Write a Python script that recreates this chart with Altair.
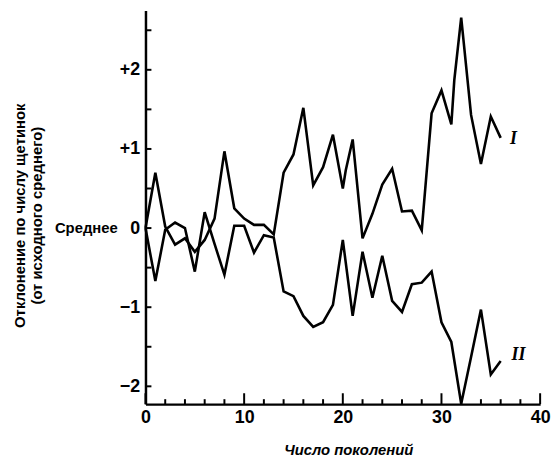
import altair as alt
import pandas as pd

# ---- data ----
gen_I = [0, 1, 2, 3, 4, 5, 6, 7, 8, 9, 10, 11, 12, 13, 14, 15, 16, 17, 18, 19, 20, 20.3, 21, 22, 23, 24, 25, 26,
         27, 28, 29, 30, 31, 31.3, 32, 33, 34, 35, 36]
val_I = [0, 0.70, 0.02, -0.21, -0.13, -0.30, -0.15, 0.12, 0.97, 0.25, 0.12, 0.04, 0.04, -0.08, 0.70, 0.93, 1.52,
         0.54, 0.77, 1.18, 0.50, 0.73, 1.12, -0.13, 0.18, 0.55, 0.75, 0.21, 0.22, -0.03, 1.45, 1.74, 1.31, 1.87,
         2.66, 1.43, 0.81, 1.41, 1.14]

gen_II = [0, 1, 2, 3, 4, 5, 6, 7, 8, 9, 10, 11, 12, 13, 14, 15, 16, 17, 18, 19, 20, 21, 22, 23, 24, 25, 26, 27,
          28, 29, 30, 31, 32, 33, 34, 35, 36]
val_II = [0, -0.67, -0.02, 0.07, 0.0, -0.55, 0.20, -0.20, -0.59, 0.03, 0.03, -0.31, -0.09, -0.12, -0.80, -0.86,
          -1.11, -1.25, -1.19, -0.97, -0.15, -1.11, -0.30, -0.88, -0.35, -0.92, -1.06, -0.71, -0.69, -0.55, -1.19,
          -1.44, -2.22, -1.63, -1.03, -1.85, -1.68]

x_major = [0, 10, 20, 30, 40]
x_minor = [2, 4, 6, 8, 12, 14, 16, 18, 22, 24, 26, 28, 32, 34, 36, 38]
y_ticks = [-2, -1.5, -1, -0.5, 0, 0.5, 1, 1.5, 2, 2.5]
y_labels = [-2, -1, 0, 1, 2]

series_label_x = [37.3, 37.8]
series_label_y = [1.12, -1.60]
series_label_text = ["I", "II"]

mean_text = ["Среднее"]
mean_val = [0]

x_title = "Число поколений"
y_title = ["Отклонение по числу щетинок", "(от исходного среднего)"]

# ---- tables ----
lines_df = pd.DataFrame(
    {"gen": gen_I + gen_II,
     "val": val_I + val_II,
     "series": ["I"] * len(gen_I) + ["II"] * len(gen_II),
     "ord": list(range(len(gen_I))) + list(range(len(gen_II)))}
)
xmaj_df = pd.DataFrame({"gen": x_major})
xmin_df = pd.DataFrame({"gen": x_minor})
yt_df = pd.DataFrame({"val": y_ticks})
lab_df = pd.DataFrame({"gen": series_label_x, "val": series_label_y, "t": series_label_text})
mean_df = pd.DataFrame({"val": mean_val, "t": mean_text})

W, H = 399, 398
NARROW = "Liberation Sans Narrow, Liberation Sans, Arial, sans-serif"

xscale = alt.Scale(domain=[0, 40], nice=False, zero=False)
yscale = alt.Scale(domain=[-2.225, 2.75], nice=False, zero=False)

xaxis = alt.Axis(values=x_major, ticks=False, grid=False, domainColor="black", domainWidth=2.5,
                 labelFont=NARROW, labelFontSize=18, labelFontWeight="bold", labelColor="black",
                 labelPadding=5, labelFlush=False,
                 title=x_title, titleFont=NARROW, titleFontSize=15, titleFontWeight="bold",
                 titleFontStyle="italic", titleColor="black", titlePadding=16, titleX=205)
yaxis = alt.Axis(values=y_labels, ticks=False, grid=False, domainColor="black", domainWidth=2.5,
                 labelFont=NARROW, labelFontSize=18, labelFontWeight="bold", labelColor="black",
                 labelPadding=6, labelFlush=False,
                 labelExpr="datum.value > 0 ? '+' + datum.label : datum.label",
                 title=y_title, titleFont=NARROW, titleFontSize=15, titleFontWeight="bold",
                 titleColor="black", titleLineHeight=17, titleX=-119, titleY=207)


def X():
    return alt.X("gen:Q", scale=xscale, axis=xaxis)


def Y():
    return alt.Y("val:Q", scale=yscale, axis=yaxis)


lines = alt.Chart(lines_df).mark_line(color="black", strokeWidth=2.6, strokeJoin="miter").encode(
    x=X(), y=Y(), detail="series:N", order="ord:Q"
)

xmaj = alt.Chart(xmaj_df).mark_rule(color="black", strokeWidth=2).encode(
    x=X(), y=alt.value(H), y2=alt.value(H - 11)
)
xmin = alt.Chart(xmin_df).mark_rule(color="black", strokeWidth=2).encode(
    x=X(), y=alt.value(H), y2=alt.value(H - 5)
)
yt = alt.Chart(yt_df).mark_rule(color="black", strokeWidth=2).encode(
    y=Y(), x=alt.value(0), x2=alt.value(6)
)

mean_lab = alt.Chart(mean_df).mark_text(
    align="right", baseline="middle", font=NARROW, fontSize=15, fontWeight="bold", color="black"
).encode(y=Y(), x=alt.value(-28), text="t:N")

ser_lab = alt.Chart(lab_df).mark_text(
    align="center", baseline="middle", font="Liberation Serif, DejaVu Serif, serif", fontSize=18,
    fontStyle="italic", fontWeight="bold", color="black"
).encode(x=X(), y=Y(), text="t:N")

chart = alt.layer(lines, xmaj, xmin, yt, mean_lab, ser_lab).properties(
    width=W, height=H,
    padding={"left": 139, "top": 0, "right": 12, "bottom": 55},
    autosize=alt.AutoSizeParams(type="none"),
).configure_view(stroke=None)

chart.save("out.html", embed_options={"renderer": "svg", "actions": False})
